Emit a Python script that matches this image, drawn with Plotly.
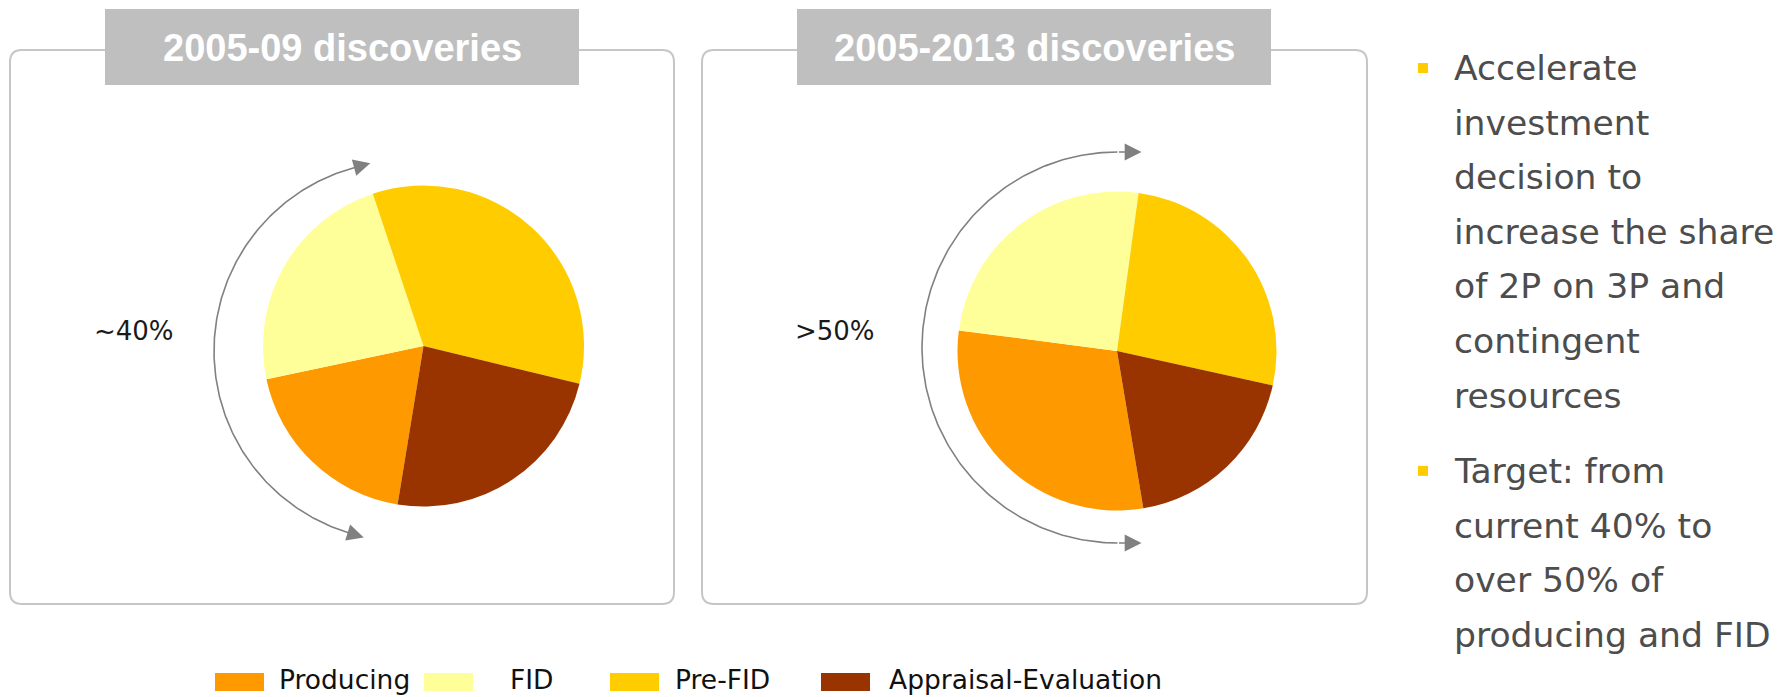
import numpy as np
import plotly.graph_objects as go

W, H = 1792, 697

# ---- data ----
categories = ["Producing", "FID", "Pre-FID", "Appraisal-Evaluation"]
colors = ["#FF9900", "#FFFF99", "#FFCC00", "#993300"]
share_2005_09 = [19.1, 23.2, 33.9, 23.8]
share_2005_13 = [29.7, 25.1, 26.3, 18.9]
panel_titles = ["2005-09 discoveries", "2005-2013 discoveries"]
bracket_labels = ["~40%", ">50%"]
bullet_points = [
    ["Accelerate", "investment", "decision to", "increase the share",
     "of 2P on 3P and", "contingent", "resources"],
    ["Target: from", "current 40% to", "over 50% of", "producing and FID"],
]

# ---- layout geometry (pixels, y measured from top) ----
panels = [
    dict(values=share_2005_09, title=panel_titles[0], label=bracket_labels[0],
         box=(10, 50, 674, 604), tbox=(105, 9, 579, 85),
         cx=423.5, cy=346, r=160.5, rotation=189.3,
         arc=dict(cx=404, cy=351, r=190, a0=255, a1=107, head=16),
         label_xy=(134, 331)),
    dict(values=share_2005_13, title=panel_titles[1], label=bracket_labels[1],
         box=(702, 50, 1367, 604), tbox=(797, 9, 1271, 85),
         cx=1117, cy=351, r=159.5, rotation=170.5,
         arc=dict(cx=1117.5, cy=347.5, r=195.5, a0=270, a1=90, head=24),
         label_xy=(835, 331)),
]

GRID = "#C6C6C6"
ARC = "#808080"
TITLE_BG = "#BFBFBF"
TEXT_GREY = "#4D4D4D"


def rounded_rect(x0, y0, x1, y1, rad):
    return (f"M{x0 + rad},{y0} L{x1 - rad},{y0} Q{x1},{y0} {x1},{y0 + rad} "
            f"L{x1},{y1 - rad} Q{x1},{y1} {x1 - rad},{y1} L{x0 + rad},{y1} "
            f"Q{x0},{y1} {x0},{y1 - rad} L{x0},{y0 + rad} Q{x0},{y0} {x0 + rad},{y0} Z")


fig = go.Figure()
shapes = []
annotations = []

for p in panels:
    # pie
    cx, cy, r = p["cx"], p["cy"], p["r"]
    fig.add_trace(go.Pie(
        labels=categories, values=p["values"],
        marker=dict(colors=colors, line=dict(width=0)),
        sort=False, direction="clockwise", rotation=p["rotation"],
        textinfo="none", hoverinfo="label+percent", showlegend=False,
        domain=dict(x=[(cx - r) / W, (cx + r) / W],
                    y=[1 - (cy + r) / H, 1 - (cy - r) / H]),
    ))

    # panel frame and title tab
    x0, y0, x1, y1 = p["box"]
    shapes.append(dict(type="path", path=rounded_rect(x0, y0, x1, y1, 12),
                       xref="x", yref="y", line=dict(color=GRID, width=2),
                       fillcolor="rgba(0,0,0,0)", layer="below"))
    tx0, ty0, tx1, ty1 = p["tbox"]
    shapes.append(dict(type="rect", x0=tx0, y0=ty0, x1=tx1, y1=ty1,
                       xref="x", yref="y", line=dict(width=0),
                       fillcolor=TITLE_BG, layer="below"))
    annotations.append(dict(x=(tx0 + tx1) / 2, y=(ty0 + ty1) / 2 + 1, xref="x", yref="y",
                            text=f"<b>{p['title']}</b>", showarrow=False,
                            xanchor="center", yanchor="middle",
                            font=dict(family="Liberation Sans", size=38, color="white")))

    # curved bracket with arrowheads at both ends
    a = p["arc"]
    th = np.radians(np.linspace(a["a0"], a["a1"], 200))
    ax_ = a["cx"] + a["r"] * np.cos(th)
    ay_ = a["cy"] + a["r"] * np.sin(th)
    fig.add_trace(go.Scatter(x=ax_, y=ay_, mode="lines",
                             line=dict(color=ARC, width=1.6),
                             hoverinfo="skip", showlegend=False))
    for ang, sgn in ((a["a0"], 1), (a["a1"], -1)):
        t = np.radians(ang)
        ex = a["cx"] + a["r"] * np.cos(t)
        ey = a["cy"] + a["r"] * np.sin(t)
        # tangent at the arc end, pointing outward along the path
        dx, dy = -np.sin(t) * sgn, np.cos(t) * sgn
        annotations.append(dict(x=ex + a["head"] * dx, y=ey + a["head"] * dy,
                                ax=ex, ay=ey, xref="x", yref="y", axref="x", ayref="y",
                                text="", showarrow=True, arrowhead=2, arrowsize=2.1,
                                arrowwidth=1.6, arrowcolor=ARC, standoff=0))

    lx, ly = p["label_xy"]
    annotations.append(dict(x=lx, y=ly, xref="x", yref="y", text=p["label"],
                            showarrow=False, xanchor="center", yanchor="middle",
                            font=dict(family="DejaVu Sans", size=26, color="#1A1A1A")))

# legend row
legend_swatch_x = [215, 424, 610, 821]
legend_text_x = [277, 508, 673, 887]
for cat, col, sx, txx in zip(categories, colors, legend_swatch_x, legend_text_x):
    shapes.append(dict(type="rect", x0=sx, x1=sx + 49, y0=673, y1=691,
                       xref="x", yref="y", line=dict(width=0), fillcolor=col))
    annotations.append(dict(x=txx, y=679, xref="x", yref="y", text=cat,
                            showarrow=False, xanchor="left", yanchor="middle",
                            font=dict(family="DejaVu Sans", size=26.5, color="#111111")))

# bullet text on the right
line_step = 54.6
para_gap = 20.7
y = 68
for para in bullet_points:
    shapes.append(dict(type="rect", x0=1418, x1=1428, y0=y - 5, y1=y + 5,
                       xref="x", yref="y", line=dict(width=0), fillcolor="#FFCC00"))
    for line in para:
        annotations.append(dict(x=1452, y=y, xref="x", yref="y", text=line,
                                showarrow=False, xanchor="left", yanchor="middle",
                                font=dict(family="DejaVu Sans", size=34.6, color=TEXT_GREY)))
        y += line_step
    y += para_gap

fig.update_layout(
    width=W, height=H,
    margin=dict(l=0, r=0, t=0, b=0),
    paper_bgcolor="white", plot_bgcolor="rgba(0,0,0,0)",
    xaxis=dict(range=[0, W], visible=False, fixedrange=True),
    yaxis=dict(range=[H, 0], visible=False, fixedrange=True),
    shapes=shapes, annotations=annotations,
    showlegend=False,
)

fig.write_html("out.html")
